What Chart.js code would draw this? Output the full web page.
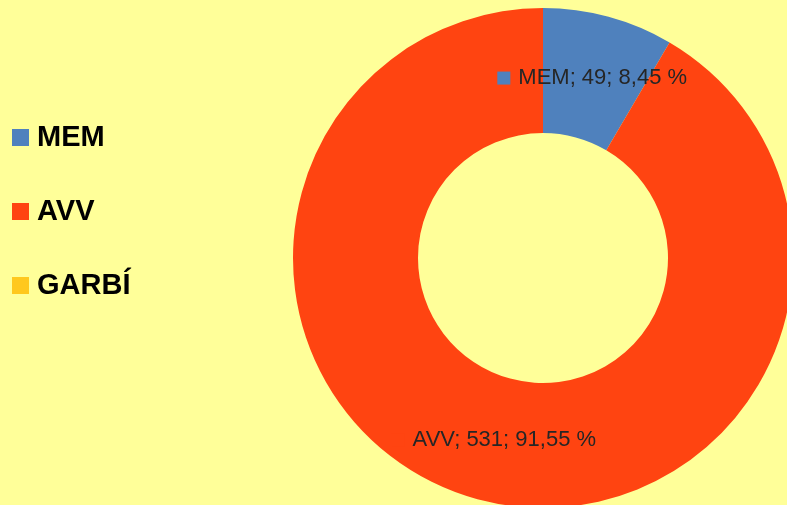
<!DOCTYPE html>
<html>
<head>
<meta charset="utf-8">
<script src="https://cdn.jsdelivr.net/npm/chart.js@4/dist/chart.umd.min.js"></script>
<style>
  html, body { margin: 0; padding: 0; background: #FFFF99; overflow: hidden; }
  #wrap { position: relative; width: 787px; height: 505px; overflow: hidden; background: #FFFF99; }
  #c { position: absolute; left: 0; top: 0; }
</style>
</head>
<body>
<div id="wrap"><canvas id="c" width="800" height="520"></canvas></div>
<script>
const categories = ["MEM", "AVV", "GARBÍ"];
const values = [49, 531, 0];
const colors = ["#4F81BD", "#FF4411", "#FFC81E"];

const bgPlugin = {
  id: 'bg',
  beforeDraw(chart) {
    const ctx = chart.ctx;
    ctx.save();
    ctx.fillStyle = '#FFFF99';
    ctx.fillRect(0, 0, chart.width, chart.height);
    ctx.restore();
  }
};

const legendPlugin = {
  id: 'sideLegend',
  afterDraw(chart) {
    const ctx = chart.ctx;
    const labels = chart.data.labels;
    const cols = chart.data.datasets[0].backgroundColor;
    ctx.save();
    ctx.font = 'bold 29px "Liberation Sans", Arial, sans-serif';
    ctx.textBaseline = 'middle';
    ctx.textAlign = 'left';
    labels.forEach((lab, i) => {
      const y = 137 + i * 74;
      ctx.fillStyle = cols[i];
      ctx.fillRect(12, y - 8, 17, 17);
      ctx.fillStyle = '#000000';
      ctx.fillText(lab, 37, y + 1);
    });
    ctx.restore();
  }
};

const dataLabelPlugin = {
  id: 'dataLabels',
  afterDatasetsDraw(chart) {
    const ctx = chart.ctx;
    const ds = chart.data.datasets[0];
    const meta = chart.getDatasetMeta(0);
    const total = ds.data.reduce((a, b) => a + b, 0);
    ctx.save();
    ctx.font = '22px "Liberation Sans", Arial, sans-serif';
    ctx.textBaseline = 'middle';
    ctx.textAlign = 'left';
    meta.data.forEach((arc, i) => {
      const v = ds.data[i];
      if (!v) return;
      const pct = (v / total * 100).toFixed(2).replace('.', ',');
      const txt = chart.data.labels[i] + '; ' + v + '; ' + pct + ' %';
      const p = arc.tooltipPosition();
      const sq = 13, gap = 8;
      const tw = ctx.measureText(txt).width;
      const x0 = p.x - (sq + gap + tw) / 2;
      ctx.fillStyle = ds.backgroundColor[i];
      ctx.fillRect(x0, p.y - sq / 2 + 1, sq, sq);
      ctx.fillStyle = '#262626';
      ctx.fillText(txt, x0 + sq + gap, p.y + 1);
    });
    ctx.restore();
  }
};

new Chart(document.getElementById('c'), {
  type: 'doughnut',
  data: {
    labels: categories,
    datasets: [{
      data: values,
      backgroundColor: colors,
      borderWidth: 0
    }]
  },
  options: {
    responsive: false,
    animation: false,
    cutout: '50%',
    layout: { padding: { left: 293, right: 7, top: 8, bottom: 12 } },
    plugins: {
      legend: { display: false },
      tooltip: { enabled: false }
    }
  },
  plugins: [bgPlugin, legendPlugin, dataLabelPlugin]
});
</script>
</body>
</html>
